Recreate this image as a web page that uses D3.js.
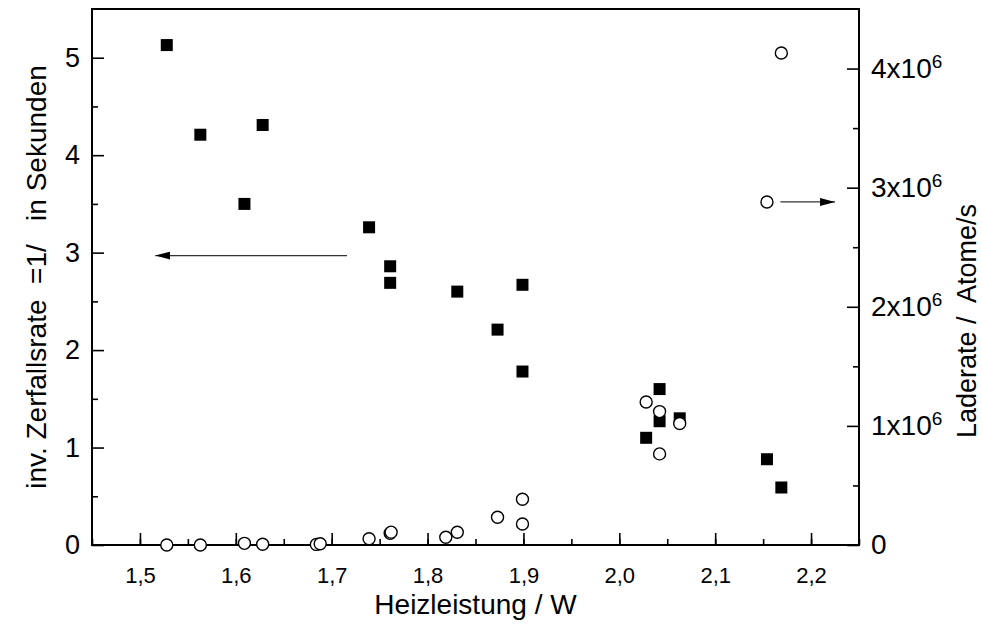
<!DOCTYPE html>
<html>
<head>
<meta charset="utf-8">
<script src="https://cdn.jsdelivr.net/npm/d3@7"></script>
<style>
  body { margin: 0; background: #fff; }
  svg { font-family: Arial, "Liberation Sans", sans-serif; }
</style>
</head>
<body>
<div id="chart"></div>
<script>
// inverse decay rate (left axis), filled squares
const rateX = [1.528, 1.563, 1.628, 1.609, 1.739, 1.761, 1.761, 1.831, 1.899, 1.873, 1.899, 2.042, 2.042, 2.063, 2.028, 2.154, 2.169]
const rateY = [5.13, 4.21, 4.31, 3.50, 3.26, 2.86, 2.69, 2.60, 2.67, 2.21, 1.78, 1.60, 1.27, 1.30, 1.10, 0.88, 0.59]

// loading rate (right axis, atoms/s), open circles
const loadX = [1.528, 1.563, 1.609, 1.628, 1.684, 1.688, 1.739, 1.761, 1.762, 1.819, 1.831, 1.873, 1.899, 1.899, 2.028, 2.042, 2.042, 2.063, 2.154, 2.169]
const loadY = [0, 0, 0.014e6, 0.006e6, 0.005e6, 0.01e6, 0.053e6, 0.098e6, 0.108e6, 0.065e6, 0.107e6, 0.233e6, 0.384e6, 0.176e6, 1.20e6, 1.12e6, 0.765e6, 1.02e6, 2.88e6, 4.13e6]

const xTicks = [1.5, 1.6, 1.7, 1.8, 1.9, 2.0, 2.1, 2.2]
const leftTicks = [0, 1, 2, 3, 4, 5]
const rightTicks = [0, 1e6, 2e6, 3e6, 4e6]

// arrows pointing to the axis each series belongs to
const leftArrow = { y: 2.97, from: 1.716, to: 1.516 }
const rightArrow = { y: 2.88e6, from: 2.168, to: 2.225 }

const width = 983
const height = 627
const margin = { top: 9, right: 124, bottom: 82, left: 92 }
const innerW = width - margin.left - margin.right
const innerH = height - margin.top - margin.bottom

const svg = d3.select('#chart').append('svg')
  .attr('width', width)
  .attr('height', height)

const defs = svg.append('defs')
defs.append('marker')
  .attr('id', 'head')
  .attr('viewBox', '0 0 15 8')
  .attr('refX', 15).attr('refY', 4)
  .attr('markerWidth', 15).attr('markerHeight', 8)
  .attr('markerUnits', 'userSpaceOnUse')
  .attr('orient', 'auto')
  .append('path')
    .attr('d', 'M0,0 L15,4 L0,8 Z')
    .attr('fill', '#000')

const g = svg.append('g')
  .attr('transform', `translate(${margin.left},${margin.top})`)

const x = d3.scaleLinear().domain([1.45, 2.25]).range([0, innerW])
const yL = d3.scaleLinear().domain([0, 5.5]).range([innerH, 0])
const yR = d3.scaleLinear().domain([0, 4.5e6]).range([innerH, 0])

const comma = d3.formatLocale({ decimal: ',', thousands: '.', grouping: [3], currency: ['', ''] }).format('.1f')

const tickStyle = (sel) => {
  sel.select('.domain').remove()
  sel.selectAll('.tick line').attr('stroke', '#000').attr('stroke-width', 1.6)
}

// minor ticks first
g.append('g')
  .attr('transform', `translate(0,${innerH})`)
  .call(d3.axisBottom(x).tickValues(d3.range(1.45, 2.251, 0.05)).tickSize(-6).tickFormat(''))
  .call(tickStyle)
g.append('g')
  .call(d3.axisLeft(yL).tickValues(d3.range(0.5, 5.5, 1)).tickSize(-6).tickFormat(''))
  .call(tickStyle)
g.append('g')
  .attr('transform', `translate(${innerW},0)`)
  .call(d3.axisRight(yR).tickValues(d3.range(0.5e6, 4.5e6, 1e6)).tickSize(-6).tickFormat(''))
  .call(tickStyle)

// major ticks
const xAxis = g.append('g')
  .attr('transform', `translate(0,${innerH})`)
  .call(d3.axisBottom(x).tickValues(xTicks).tickSize(-12).tickPadding(18).tickFormat(comma))
  .call(tickStyle)
xAxis.selectAll('text').attr('font-size', 22).attr('fill', '#000').attr('dy', '0.9em')

const lAxis = g.append('g')
  .call(d3.axisLeft(yL).tickValues(leftTicks).tickSize(-12).tickPadding(12).tickFormat(d3.format('d')))
  .call(tickStyle)
lAxis.selectAll('text').attr('font-size', 27).attr('fill', '#000')

const rAxis = g.append('g')
  .attr('transform', `translate(${innerW},0)`)
  .call(d3.axisRight(yR).tickValues(rightTicks).tickSize(-12).tickPadding(12).tickFormat(''))
  .call(tickStyle)
rAxis.selectAll('.tick text').each(function (d) {
  const t = d3.select(this).attr('font-size', 28).attr('fill', '#000')
  if (d === 0) {
    t.text('0')
  } else {
    t.append('tspan').text(`${d / 1e6}x10`)
    t.append('tspan').attr('font-size', 19).attr('dy', -10).text('6')
  }
})

// frame
g.append('rect')
  .attr('width', innerW).attr('height', innerH)
  .attr('fill', 'none').attr('stroke', '#000').attr('stroke-width', 2)

// arrows
g.append('line')
  .attr('x1', x(leftArrow.from)).attr('x2', x(leftArrow.to))
  .attr('y1', yL(leftArrow.y)).attr('y2', yL(leftArrow.y))
  .attr('stroke', '#333').attr('stroke-width', 1.2)
  .attr('marker-end', 'url(#head)')
g.append('line')
  .attr('x1', x(rightArrow.from)).attr('x2', x(rightArrow.to))
  .attr('y1', yR(rightArrow.y)).attr('y2', yR(rightArrow.y))
  .attr('stroke', '#333').attr('stroke-width', 1.2)
  .attr('marker-end', 'url(#head)')

// squares
const sq = 12
g.selectAll('.rate')
  .data(rateX)
  .enter()
  .append('rect')
    .attr('class', 'rate')
    .attr('x', d => x(d) - sq / 2)
    .attr('y', (d, i) => yL(rateY[i]) - sq / 2)
    .attr('width', sq).attr('height', sq)
    .attr('fill', '#000')

// circles
g.selectAll('.load')
  .data(loadX)
  .enter()
  .append('circle')
    .attr('class', 'load')
    .attr('cx', d => x(d))
    .attr('cy', (d, i) => yR(loadY[i]))
    .attr('r', 6)
    .attr('fill', '#fff')
    .attr('stroke', '#000')
    .attr('stroke-width', 1.4)

// axis titles
svg.append('text')
  .attr('x', margin.left + innerW / 2).attr('y', 614)
  .attr('text-anchor', 'middle')
  .attr('font-size', 28)
  .text('Heizleistung / W')

svg.append('text')
  .attr('transform', `translate(46,${margin.top + innerH / 2}) rotate(-90)`)
  .attr('text-anchor', 'middle')
  .attr('font-size', 28)
  .style('white-space', 'pre')
  .text('inv. Zerfallsrate  =1/   in Sekunden')

svg.append('text')
  .attr('transform', `translate(976,${margin.top + innerH / 2 + 44}) rotate(-90)`)
  .attr('text-anchor', 'middle')
  .attr('font-size', 27)
  .style('white-space', 'pre')
  .text('Laderate /  Atome/s')
</script>
</body>
</html>
